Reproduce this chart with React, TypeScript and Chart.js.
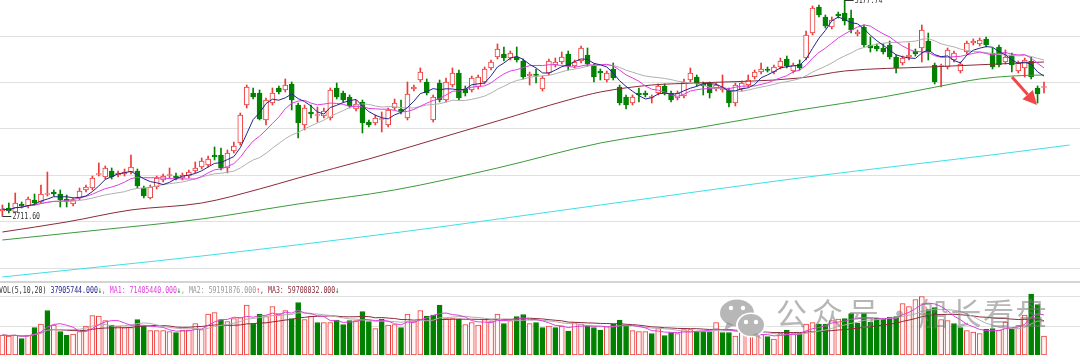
import React, { useEffect, useRef } from "react";
import { Chart, registerables } from "chart.js";
Chart.register(...registerables);

// ---------- daily candles (index 0..162) ----------
const opens = [2722.9,2729.4,2720.7,2738.0,2733.7,2746.6,2742.3,2758.5,2763.8,2759.5,
 2748.8,2738.0,2750.9,2768.2,2772.5,2801.6,2796.2,2809.1,2800.5,2802.6,
 2806.9,2809.1,2772.5,2750.9,2774.6,2789.7,2799.4,2798.3,2794.0,2798.3,
 2809.1,2817.7,2822.0,2843.6,2843.6,2815.6,2852.2,2869.4,2951.3,2977.2,
 2977.2,2919.0,2955.6,2988.0,2983.7,2996.6,2951.3,2908.2,2936.2,2928.7,
 2927.6,2923.3,2988.0,2977.2,2968.6,2942.7,2957.8,2914.7,2912.5,2920.1,
 2908.2,2944.9,2942.7,2923.3,2985.8,3005.2,3000.9,2919.0,2998.7,2962.1,
 2994.4,3020.3,2985.8,2983.7,2990.1,3000.9,3031.1,3054.8,3061.2,3052.6,
 3054.8,3046.1,3013.8,3018.1,2985.8,3020.3,3037.5,3044.0,3061.2,3035.4,
 3046.1,3059.1,3035.4,3024.6,3005.2,3028.9,2990.1,2968.6,2955.6,2977.2,
 2977.2,2967.5,2977.2,2992.3,2977.2,2966.4,2970.7,3005.2,3011.7,2996.6,
 2996.6,2985.8,2983.7,2983.7,2955.6,2985.8,2994.4,3011.7,3022.4,3028.9,
 3022.4,3033.2,3050.5,3024.6,3039.7,3052.6,3106.5,3162.5,3141.0,3119.4,
 3147.4,3149.6,3138.8,3104.3,3119.4,3080.6,3078.5,3074.2,3080.6,3054.8,
 3041.8,3054.8,3067.7,3074.2,3089.2,3037.5,3034.3,3033.2,3048.3,3024.6,
 3065.5,3084.9,3082.8,3093.6,3063.4,3076.3,3044.0,3059.1,3024.6,3031.1,
 3046.1,2988.0,2989.0];

const highs = [2735.8,2740.1,2761.7,2742.3,2753.1,2759.5,2778.9,2806.9,2768.2,2768.2,
 2757.4,2750.9,2772.5,2778.9,2798.3,2826.3,2819.9,2815.6,2809.1,2813.4,
 2843.6,2813.4,2776.8,2778.9,2798.3,2802.6,2815.6,2804.8,2804.8,2811.3,
 2828.5,2837.1,2841.4,2860.8,2858.7,2854.4,2871.6,2934.1,2994.4,2988.0,
 2983.7,2966.4,2988.0,2992.3,3007.4,3000.9,2955.6,2951.3,2951.3,2947.0,
 2944.9,2988.0,2998.7,2981.5,2972.9,2962.1,2962.1,2919.0,2929.8,2936.2,
 2944.9,2964.3,2962.1,3000.9,2994.4,3031.1,3007.4,2972.9,3005.2,3009.5,
 3031.1,3026.8,2992.3,3013.8,3016.0,3033.2,3048.3,3082.8,3076.3,3067.7,
 3076.3,3050.5,3022.4,3028.9,3013.8,3050.5,3052.6,3065.5,3067.7,3048.3,
 3078.5,3074.2,3039.7,3028.9,3024.6,3041.8,2994.4,2972.9,2972.9,2988.0,
 2981.5,2972.9,2996.6,2996.6,2981.5,2981.5,3007.4,3031.1,3016.0,3000.9,
 3000.9,2998.7,3016.0,2988.0,2998.7,3003.0,3016.0,3026.8,3041.8,3033.2,
 3037.5,3052.6,3056.9,3041.8,3048.3,3110.8,3164.7,3166.8,3145.3,3141.0,
 3151.7,3177.74,3156.1,3113.0,3123.7,3097.9,3082.8,3082.8,3089.2,3059.1,
 3056.9,3084.9,3072.0,3123.7,3106.5,3041.8,3039.7,3074.2,3067.7,3044.0,
 3089.2,3093.6,3095.7,3097.9,3074.2,3080.6,3069.9,3063.4,3046.1,3052.6,
 3054.8,2992.3,3000.9];

const lows = [2711.6,2718.6,2718.6,2729.4,2729.4,2735.8,2740.1,2755.2,2755.2,2731.5,
 2731.5,2733.7,2746.6,2763.8,2768.2,2798.3,2791.9,2791.9,2796.2,2798.3,
 2802.6,2772.5,2750.9,2748.8,2770.3,2785.4,2794.0,2789.7,2789.7,2794.0,
 2804.8,2813.4,2817.7,2832.8,2811.3,2804.8,2847.9,2865.1,2944.9,2964.3,
 2919.0,2908.2,2951.3,2975.0,2979.3,2940.6,2880.2,2897.5,2923.3,2914.7,
 2923.3,2919.0,2964.3,2957.8,2944.9,2938.4,2891.0,2903.9,2908.2,2893.2,
 2903.9,2940.6,2931.9,2919.0,2981.5,3000.9,2972.9,2914.7,2957.8,2957.8,
 2990.1,2962.1,2970.7,2979.3,2985.8,2996.6,3026.8,3050.5,3046.1,3048.3,
 3044.0,3007.4,2994.4,2998.7,2981.5,3016.0,3033.2,3039.7,3026.8,3031.1,
 3041.8,3035.4,3000.9,3005.2,3000.9,3005.2,2951.3,2942.7,2951.3,2957.8,
 2968.6,2955.6,2972.9,2972.9,2957.8,2962.1,2966.4,3000.9,2992.3,2972.9,
 2966.4,2981.5,2979.3,2947.0,2949.2,2981.5,2990.1,3007.4,3018.1,3022.4,
 3018.1,3028.9,3031.1,3020.3,3026.8,3048.3,3102.2,3141.0,3117.3,3115.1,
 3138.8,3123.7,3106.5,3100.0,3076.3,3065.5,3067.7,3061.2,3050.5,3020.3,
 3037.5,3048.3,3056.9,3044.0,3048.3,2996.6,2990.1,3028.9,3044.0,3020.3,
 3061.2,3080.6,3078.5,3076.3,3028.9,3033.2,3039.7,3022.4,3020.3,3011.7,
 3007.4,2955.6,2977.2];

const closes = [2727.2,2722.9,2740.1,2733.7,2748.8,2740.1,2759.5,2760.6,2759.5,2746.6,
 2742.3,2746.6,2766.0,2774.6,2794.0,2803.7,2815.6,2796.2,2804.8,2806.9,
 2817.7,2776.8,2755.2,2774.6,2794.0,2798.3,2801.6,2794.0,2800.5,2806.9,
 2815.6,2830.6,2834.9,2839.3,2815.6,2847.9,2863.0,2929.8,2990.1,2968.6,
 2921.2,2962.1,2977.2,2979.3,2994.4,2962.1,2912.5,2944.9,2931.9,2930.8,
 2938.4,2983.7,2968.6,2962.1,2949.2,2953.5,2912.5,2908.2,2923.3,2922.2,
 2940.6,2955.6,2936.2,2975.0,2990.1,3022.4,2977.2,2968.6,2962.1,3000.9,
 3020.3,2966.4,2977.2,3009.5,3011.7,3028.9,3044.0,3072.0,3052.6,3063.4,
 3048.3,3011.7,3018.1,3014.9,3009.5,3046.1,3044.0,3054.8,3035.4,3044.0,
 3074.2,3039.7,3011.7,3020.3,3020.3,3009.5,2955.6,2951.3,2968.6,2972.9,
 2972.9,2969.6,2992.3,2977.2,2962.1,2977.2,3000.9,3020.3,2996.6,2992.3,
 2977.2,2994.4,2988.0,2955.6,2994.4,2998.7,3005.2,3022.4,3028.9,3025.7,
 3033.2,3046.1,3035.4,3037.5,3031.1,3102.2,3160.4,3145.3,3121.6,3134.5,
 3143.1,3132.3,3113.0,3108.6,3080.6,3074.2,3072.0,3065.5,3054.8,3031.1,
 3052.6,3059.1,3061.2,3113.0,3065.5,3000.9,3036.4,3069.9,3063.4,3039.7,
 3084.9,3089.2,3091.4,3080.6,3033.2,3037.5,3054.8,3037.5,3041.8,3048.3,
 3011.7,2975.0,2991.2];

// volume in millions of shares
const volumes = [40,38,40,33,40,55,62,89,60,47,
 40,42,47,58,79,78,69,60,58,55,
 55,71,58,49,49,49,47,45,50,50,
 63,51,82,85,71,67,73,75,100,63,
 82,77,97,83,89,73,105,71,78,65,
 65,65,70,61,69,69,87,67,53,72,
 60,61,55,82,67,89,78,80,100,73,
 73,72,61,65,60,71,67,82,63,69,
 77,81,63,65,55,58,55,58,48,65,
 62,58,55,50,57,62,70,58,49,47,
 47,43,53,39,45,43,51,51,48,48,
 47,65,45,45,38,45,40,41,41,37,
 32,44,50,43,43,62,65,62,62,69,
 72,73,83,64,83,66,74,73,76,77,
 103,97,111,117,91,95,71,69,63,55,
 49,46,43,52,53,50,66,52,59,80,
 122,101,37.9];
// u = red hollow volume bar, d = green solid
const volDir =
  "uuududududduuuuuuduuudduuuud" +
  "uuuuuuduuuudduuuudduuduudddu" +
  "dduduuduuuddduuduuuuuududdud" +
  "dududuudddudddu uudud".replace(" ", "") + "duuudddu" +
  "dduuuuuduududuudduuddddddddd" +
  "uuuudduudduuudduuduuddu";

// long moving averages (index, value)
const ma60Idx = [0,10,20,31,40,46,57,67,77,88,93,101,108,124,131,144,162];
const ma60Val = [2677.6,2699.2,2725.1,2740.1,2770.3,2794.0,2835.0,2875.9,2916.9,2962.1,2979.3,2994.4,2998.7,3009.5,3024.6,3033.2,3044.0];
const ma120Idx = [0,15,31,46,61,77,93,108,124,137,146,152,157,162];
const ma120Val = [2660.4,2681.9,2705.7,2738.0,2768.2,2815.6,2869.4,2901.8,2940.6,2968.6,2992.3,3007.4,3013.8,3016.0];
const ma250Idx = [0,31,62,93,124,155,166];
const ma250Val = [2580.7,2625.9,2677.6,2735.8,2794.0,2845.7,2865.1];

const priceGrid = [2600, 2700, 2800, 2900, 3000, 3100];
const volGrid = [58, 116];

const RED = "#ee3a3a";
const GREEN = "#008200";

function sma(arr: number[], n: number) {
  return arr.map((_, i) => {
    const s = Math.max(0, i - n + 1);
    let sum = 0;
    for (let k = s; k <= i; k++) sum += arr[k];
    return sum / (i - s + 1);
  });
}

export default function App() {
  const priceRef = useRef<HTMLCanvasElement>(null);
  const volRef = useRef<HTMLCanvasElement>(null);

  useEffect(() => {
    document.body.style.margin = "0";
    const idx = opens.map((_, i) => i);
    const up = idx.map((i) => closes[i] >= opens[i]);
    const ptsOf = (arr: number[]) => idx.map((i) => ({ x: i, y: arr[i] }));
    const sparse = (xs: number[], ys: number[]) => xs.map((x, k) => ({ x, y: ys[k] }));
    const lineDs = (label: string, data: any[], color: string, order: number, mono = false) => ({
      type: "line" as const,
      label,
      data,
      borderColor: color,
      borderWidth: 1,
      pointRadius: 0,
      fill: false,
      order,
      cubicInterpolationMode: mono ? ("monotone" as const) : ("default" as const),
      tension: 0,
    });

    let lowIdx = 0, highIdx = 0;
    lows.forEach((v, i) => { if (v < lows[lowIdx]) lowIdx = i; });
    highs.forEach((v, i) => { if (v > highs[highIdx]) highIdx = i; });

    const priceDecor = {
      id: "priceDecor",
      afterDatasetsDraw(chart: any) {
        const { ctx, scales } = chart;
        const xs = scales.x, ys = scales.y;
        ctx.save();
        const mark = (i: number, v: number) => {
          const px = xs.getPixelForValue(i);
          const py = ys.getPixelForValue(v);
          ctx.strokeStyle = "#333";
          ctx.lineWidth = 1;
          ctx.beginPath();
          ctx.moveTo(px, Math.round(py) + 0.5);
          ctx.lineTo(px + 9, Math.round(py) + 0.5);
          ctx.stroke();
          ctx.save();
          ctx.translate(px + 10, py);
          ctx.scale(0.73, 1);
          ctx.font = '9px "DejaVu Sans Mono"';
          ctx.fillStyle = "#333";
          ctx.textBaseline = "middle";
          ctx.fillText(v.toFixed(2), 0, 0.5);
          ctx.restore();
        };
        mark(lowIdx, lows[lowIdx]);
        mark(highIdx, highs[highIdx]);
        // red annotation arrow
        const sx = 1012, sy = 77, tx = 1037, ty = 105;
        const dx = tx - sx, dy = ty - sy, L = Math.hypot(dx, dy);
        const ux = dx / L, uy = dy / L;
        const bx = tx - ux * 14, by = ty - uy * 14;
        ctx.strokeStyle = "#f04848";
        ctx.fillStyle = "#f04848";
        ctx.lineWidth = 3;
        ctx.beginPath();
        ctx.moveTo(sx, sy);
        ctx.lineTo(bx, by);
        ctx.stroke();
        ctx.beginPath();
        ctx.moveTo(tx, ty);
        ctx.lineTo(bx - uy * 7, by + ux * 7);
        ctx.lineTo(bx + uy * 7, by - ux * 7);
        ctx.closePath();
        ctx.fill();
        ctx.restore();
      },
    };

    const xScale = { type: "linear" as const, min: -0.37, max: 167.6, display: false, offset: false };

    const c1 = new Chart(priceRef.current!, {
      type: "bar",
      data: {
        datasets: [
          lineDs("MA5", ptsOf(sma(closes, 5)), "#25258a", 0),
          lineDs("MA10", ptsOf(sma(closes, 10)), "#e03ee0", 1),
          lineDs("MA20", ptsOf(sma(closes, 20)), "#b0b0b0", 2),
          lineDs("MA60", sparse(ma60Idx, ma60Val), "#8c2a3a", 3, true),
          lineDs("MA120", sparse(ma120Idx, ma120Val), "#3c9a3c", 3, true),
          lineDs("MA250", sparse(ma250Idx, ma250Val), "#3ee0e8", 3, true),
          {
            type: "bar" as const,
            label: "body",
            data: idx.map((i) => ({ x: i, y: [opens[i], closes[i]] })) as any,
            backgroundColor: up.map((u) => (u ? "#ffffff" : GREEN)),
            borderColor: up.map((u) => (u ? RED : GREEN)),
            borderWidth: 1,
            borderSkipped: false,
            barThickness: 5,
            grouped: false,
            order: 8,
          } as any,
          {
            type: "bar" as const,
            label: "wick",
            data: idx.map((i) => ({ x: i, y: [lows[i], highs[i]] })) as any,
            backgroundColor: up.map((u) => (u ? RED : GREEN)),
            borderWidth: 0,
            barThickness: 1,
            grouped: false,
            order: 9,
          } as any,
        ],
      },
      options: {
        responsive: false,
        animation: false,
        devicePixelRatio: 1,
        events: [],
        layout: { padding: 0, autoPadding: false },
        plugins: { legend: { display: false }, tooltip: { enabled: false } },
        scales: {
          x: xScale,
          y: {
            type: "linear",
            min: 2567.7,
            max: 3177.6,
            afterBuildTicks: (s: any) => { s.ticks = priceGrid.map((v) => ({ value: v })); },
            ticks: { display: false },
            grid: { color: "#e0e0e0", drawTicks: false, lineWidth: 1 },
            border: { display: false },
          },
        },
      } as any,
      plugins: [priceDecor],
    });

    const vup = idx.map((i) => volDir[i] === "u");
    const volDecor = {
      id: "volDecor",
      afterDraw(chart: any) {
        const { ctx } = chart;
        const oy = 283;
        ctx.save();
        ctx.globalAlpha = 0.62;
        ctx.fillStyle = "#8a8a8a";
        // WeChat-like icon
        ctx.beginPath();
        ctx.ellipse(737, 313 - oy, 17, 13.5, 0, 0, Math.PI * 2);
        ctx.fill();
        ctx.beginPath();
        ctx.moveTo(727, 322 - oy); ctx.lineTo(724, 331 - oy); ctx.lineTo(734, 325 - oy); ctx.fill();
        ctx.globalAlpha = 1;
        ctx.fillStyle = "#ffffff";
        ctx.beginPath();
        ctx.ellipse(751, 325 - oy, 15, 12.5, 0, 0, Math.PI * 2);
        ctx.fill();
        ctx.globalAlpha = 0.62;
        ctx.fillStyle = "#8a8a8a";
        ctx.beginPath();
        ctx.ellipse(751, 325 - oy, 13, 11, 0, 0, Math.PI * 2);
        ctx.fill();
        ctx.beginPath();
        ctx.moveTo(757, 333 - oy); ctx.lineTo(762, 339 - oy); ctx.lineTo(752, 335 - oy); ctx.fill();
        ctx.globalAlpha = 1;
        ctx.fillStyle = "#ffffff";
        [[731, 308], [743, 308], [746, 322], [756, 322]].forEach(([x, y]) => {
          ctx.beginPath(); ctx.arc(x, y - oy, 2.2, 0, Math.PI * 2); ctx.fill();
        });
        // text
        ctx.globalAlpha = 0.55;
        ctx.fillStyle = "#7a7a7a";
        ctx.font = '31px "Noto Sans CJK SC"';
        ctx.textBaseline = "middle";
        const t1 = ["公", "众", "号"];
        t1.forEach((c, k) => ctx.fillText(c, 776 + k * 36, 313 - oy));
        ctx.fillText("·", 884, 313 - oy);
        const t2 = ["船", "长", "看", "盘"];
        t2.forEach((c, k) => ctx.fillText(c, 918 + k * 32.5, 313 - oy));
        ctx.restore();
      },
    };

    const c2 = new Chart(volRef.current!, {
      type: "bar",
      data: {
        datasets: [
          lineDs("VMA5", ptsOf(sma(volumes, 5)), "#e03ee0", 0),
          lineDs("VMA10", ptsOf(sma(volumes, 10)), "#b0b0b0", 1),
          lineDs("VMA20", ptsOf(sma(volumes, 20)), "#8c2a3a", 2),
          {
            type: "bar" as const,
            label: "vol",
            data: idx.map((i) => ({ x: i, y: volumes[i] })) as any,
            backgroundColor: vup.map((u) => (u ? "#fff6f6" : GREEN)),
            borderColor: vup.map((u) => (u ? RED : GREEN)),
            borderWidth: 1,
            borderSkipped: false,
            barThickness: 5,
            grouped: false,
            order: 8,
          } as any,
        ],
      },
      options: {
        responsive: false,
        animation: false,
        devicePixelRatio: 1,
        events: [],
        layout: { padding: { top: 0, bottom: 3, left: 0, right: 0 }, autoPadding: false },
        plugins: { legend: { display: false }, tooltip: { enabled: false } },
        scales: {
          x: xScale,
          y: {
            type: "linear",
            min: 0,
            max: 144,
            afterBuildTicks: (s: any) => { s.ticks = volGrid.map((v) => ({ value: v })); },
            ticks: { display: false },
            grid: { color: "#e0e0e0", drawTicks: false, lineWidth: 1 },
            border: { display: false },
          },
        },
      } as any,
      plugins: [volDecor],
    });

    return () => {
      c1.destroy();
      c2.destroy();
    };
  }, []);

  const mono: React.CSSProperties = {
    position: "absolute",
    left: -1,
    top: 285,
    whiteSpace: "pre",
    fontFamily: '"DejaVu Sans Mono", monospace',
    fontSize: 9,
    lineHeight: "10px",
    transform: "scaleX(0.73)",
    transformOrigin: "0 0",
    color: "#333",
  };

  return (
    <div style={{ position: "relative", width: 1080, height: 358, overflow: "hidden", background: "#fff" }}>
      <canvas ref={priceRef} width={1080} height={283} style={{ position: "absolute", left: 0, top: 0 }} />
      <div style={{ position: "absolute", left: 0, top: 281, width: 1080, height: 2, background: "#d4d4d4" }} />
      <canvas ref={volRef} width={1080} height={75} style={{ position: "absolute", left: 0, top: 283 }} />
      <div style={mono}>
        <span>VOL(5,10,20) </span>
        <span style={{ color: "#25258a" }}>37905744.000</span>
        <span style={{ color: GREEN }}>↓</span>
        <span style={{ color: "#e03ee0" }}>, MA1: 71405440.000</span>
        <span style={{ color: GREEN }}>↓</span>
        <span style={{ color: "#999" }}>, MA2: 59191876.000</span>
        <span style={{ color: RED }}>↑</span>
        <span style={{ color: "#8c2a3a" }}>, MA3: 59708032.000</span>
        <span style={{ color: GREEN }}>↓</span>
      </div>
    </div>
  );
}
